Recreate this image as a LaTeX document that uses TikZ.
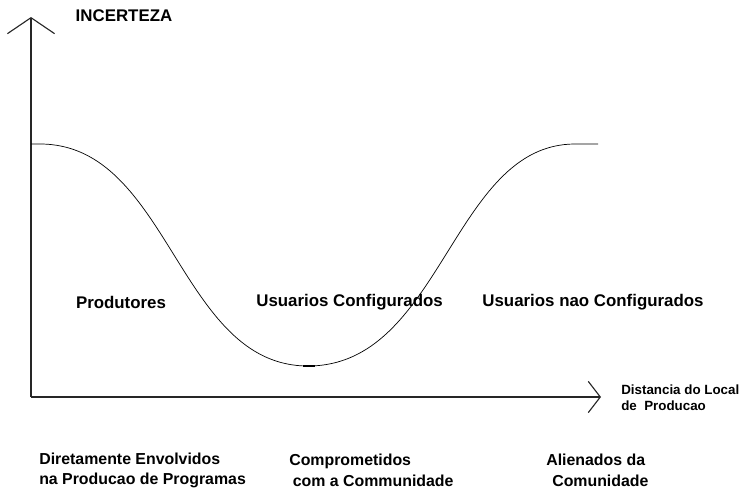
\documentclass[tikz,border=0pt]{standalone}
\usepackage{fontspec}
\setmainfont{Liberation Sans}
\usepackage{tikz}
\usetikzlibrary{arrows.meta}

\begin{document}
\begin{tikzpicture}[
        axis/.style={line width=0.8pt, black!85},
        curve/.style={line width=0.5pt},
        lbl/.style={font=\fontsize{12}{14}\selectfont\bfseries, inner sep=0pt},
        small/.style={font=\fontsize{9.5}{11.3}\selectfont\bfseries, inner sep=0pt, align=left, anchor=west},
        group/.style={font=\fontsize{11.3}{14.6}\selectfont\bfseries, inner sep=0pt, align=left, anchor=west}
    ]
                \useasboundingbox (0,0) rectangle (18.55,12.225);

                % axes
                \coordinate (O) at (0.775,2.3);
                \coordinate (ytop) at (0.775,11.8);
                \coordinate (xend) at (15.025,2.3);
                \draw[axis, -{Straight Barb[length=4mm,width=11.8mm]}] (O) -- (ytop);
                \draw[axis, -{Straight Barb[length=3mm,width=7.8mm]}] (O) -- (xend);

                % incerteza curve
                \draw[curve] (0.775,8.625) -- (1,8.625)
                    .. controls (4.25,8.625) and (4.45,3.075) .. (7.7,3.075)
                    .. controls (11.05,3.075) and (11.3,8.625) .. (14.375,8.625)
                    -- (14.95,8.625);
                \draw[line width=1.4pt] (7.575,3.075) -- (7.875,3.075);

                \node[lbl] (incerteza) at (3.1,11.825) {INCERTEZA};
                \node[lbl] (produtores) at (3.025,4.675) {Produtores};
                \node[lbl] (configurados) at (8.74,4.675) {Usuarios Configurados};
                \node[lbl] (naoconfig) at (14.825,4.675) {Usuarios nao Configurados};

                \node[small] (distancia) at (15.525,2.275) {Distancia do Local\\de\ \ Producao};

                \node[group] (envolvidos) at (0.975,0.4625) {Diretamente Envolvidos\\na Producao de Programas};
                \node[group] (comprometidos) at (7.225,0.4625) {Comprometidos\\\hspace{0.09cm}com a Communidade};
                \node[group] (alienados) at (13.65,0.4625) {Alienados da\\\hspace{0.15cm}Comunidade};

            \end{tikzpicture}
\end{document}
